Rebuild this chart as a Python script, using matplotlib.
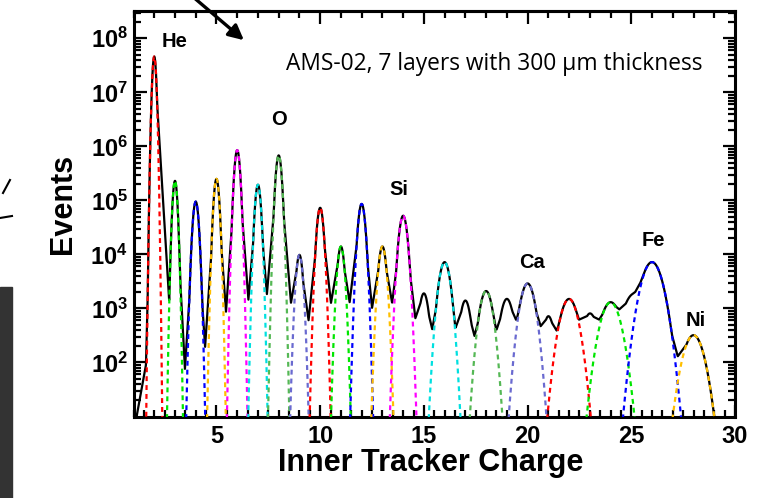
import numpy as np
import matplotlib.pyplot as plt
from matplotlib.ticker import FixedLocator, MultipleLocator, LogLocator, FuncFormatter, NullFormatter
from matplotlib.lines import Line2D
from matplotlib.patches import Rectangle

plt.rcParams['font.family'] = ['Liberation Sans', 'DejaVu Sans']
plt.rcParams['mathtext.fontset'] = 'custom'
plt.rcParams['mathtext.rm'] = 'Liberation Sans'
plt.rcParams['mathtext.bf'] = 'Liberation Sans:bold'

# --- peak parameters (charge, height, sigma) ---
charges = [2, 3, 4, 5, 6, 7, 8, 9, 10, 11, 12, 13, 14, 15,
           16, 17, 18, 19, 20, 21, 22, 23, 24, 25, 26, 28]
peak_events = [4.6e7, 2.3e5, 9.5e4, 2.5e5, 8.5e5, 1.95e5, 6.8e5, 9.8e3, 7.3e4,
               1.4e4, 8.6e4, 1.4e4, 5.2e4, 1.9e3, 7.2e3, 1.4e3, 2.1e3, 1.5e3,
               2.9e3, 700, 1.5e3, 760, 1.3e3, 1.5e3, 7.2e3, 320]
peak_sigma = [0.07, 0.086, 0.107, 0.10, 0.104, 0.105, 0.109, 0.12, 0.12,
              0.125, 0.13, 0.14, 0.155, 0.18, 0.21, 0.2, 0.24, 0.24,
              0.27, 0.2, 0.33, 0.25, 0.37, 0.3, 0.385, 0.38]
# charges that carry a coloured gaussian fit
fitted = [2, 3, 4, 5, 6, 7, 8, 9, 10, 11, 12, 13, 14, 16, 18, 20, 22, 24, 26, 28]
fit_colors = ['#ff0000', '#00e600', '#0000ff', '#ffbf00',
              '#ff00ff', '#00e0e0', '#55b855', '#6a6ad0']

# --- minima of the measured distribution between the peaks ---
valley_x = [1.0, 1.15, 1.6, 2.72, 3.48, 4.45, 5.46, 6.54, 7.43, 8.59, 9.44,
            10.52, 11.42, 12.5, 13.47, 14.59, 15.4, 16.53, 17.44, 18.49,
            19.5, 20.63, 21.4, 22.48, 23.45, 24.42, 27.24, 28.93, 29.3, 30.0]
valley_y = [4, 10, 90, 1.4e3, 76, 190, 870, 1.45e3, 1.8e3, 1.26e3, 600,
            1.26e3, 1.3e3, 1.02e3, 1.26e3, 660, 410, 440, 310, 390,
            550, 470, 390, 620, 620, 960, 130, 10, 3, 1]

labels = ['He', 'O', 'Si', 'Ca', 'Fe', 'Ni']
label_x = [3.0, 8.0, 13.8, 20.2, 26.05, 28.1]
label_y = [8.9e7, 3.2e6, 1.6e5, 7.2e3, 1.8e4, 600]


def gauss(x, h, mu, s):
    return h * np.exp(-0.5 * ((x - mu) / s) ** 2)


fig = plt.figure(figsize=(7.68, 4.98), dpi=100)
ax = fig.add_axes([133.5 / 768, 1 - 416.5 / 498, (735 - 133.5) / 768, (416.5 - 11) / 498])

# measured distribution: gaussian cores, straight (log) flanks down to the minima
xs = np.linspace(1.0, 30.0, 4000)
gsum = np.zeros_like(xs)
for z, h, s in zip(charges, peak_events, peak_sigma):
    gsum += gauss(xs, h, z, s)
env_x = np.array(valley_x + charges, dtype=float)
env_y = np.array(valley_y + peak_events, dtype=float)
order = np.argsort(env_x)
envelope = 10 ** np.interp(xs, env_x[order], np.log10(env_y[order]))
data = np.maximum(gsum, envelope)
ax.plot(xs, data, color='black', lw=1.6, zorder=3)

# gaussian fits
for i, z in enumerate(fitted):
    k = charges.index(z)
    h, s = peak_events[k], peak_sigma[k]
    xf = np.linspace(z - 6 * s, z + 6 * s, 400)
    ax.plot(xf, gauss(xf, h, z, s), color=fit_colors[i % 8], lw=1.6,
            linestyle=(0, (2.2, 1.8)), zorder=4)

ax.set_yscale('log')
ax.set_xlim(1, 30)
ax.set_ylim(10, 3.2e8)

ax.xaxis.set_major_locator(FixedLocator([5, 10, 15, 20, 25, 30]))
ax.xaxis.set_minor_locator(MultipleLocator(0.5))
ax.yaxis.set_major_locator(FixedLocator([1e2, 1e3, 1e4, 1e5, 1e6, 1e7, 1e8]))
ax.yaxis.set_minor_locator(LogLocator(base=10, subs=np.arange(2, 10)))
ax.yaxis.set_minor_formatter(NullFormatter())
ax.yaxis.set_major_formatter(FuncFormatter(lambda v, p: r'$\mathbf{10^{%d}}$' % round(np.log10(v))))

ax.tick_params(which='both', direction='in', width=1.6, right=True, top=False,
               labelsize=17)
ax.tick_params(which='major', length=9)
ax.tick_params(which='minor', length=5)
ax.tick_params(axis='x', pad=6)
ax.tick_params(axis='y', pad=4)
for t in ax.get_xticklabels():
    t.set_fontweight('bold')

top = ax.secondary_xaxis('top')
top.xaxis.set_major_locator(FixedLocator([5, 10, 15, 20, 25]))
top.xaxis.set_minor_locator(MultipleLocator(1))
top.tick_params(which='both', direction='in', width=1.6, labeltop=False)
top.tick_params(which='major', length=9)
top.tick_params(which='minor', length=5)
top.spines['top'].set_linewidth(2.2)

for sp in ax.spines.values():
    sp.set_linewidth(2.2)

for lab, lx, ly in zip(labels, label_x, label_y):
    ax.text(lx, ly, lab, ha='center', va='center', fontsize=14.5, fontweight='bold')

fig.text(702 / 768, 1 - 70 / 498, 'AMS-02, 7 layers with 300 \u00b5m thickness',
         ha='right', va='baseline', fontsize=16.4, family=['Open Sans', 'DejaVu Sans'])

fig.text(63 / 768, 1 - 204 / 498, 'Events', rotation=90, ha='center', va='center',
         fontsize=22, fontweight='bold')
fig.text(431 / 768, 1 - 463 / 498, 'Inner Tracker Charge', ha='center', va='center',
         fontsize=22, fontweight='bold')

# slide leftovers: arrow, dark panel and stray strokes
ax.annotate('', xy=(246, 456), xycoords='figure pixels', xytext=(192, 502),
            textcoords='figure pixels',
            arrowprops=dict(arrowstyle='-|>,head_length=0.9,head_width=0.45',
                            color='black', lw=2.4), annotation_clip=False)
fig.patches.append(Rectangle((0, 0), 12 / 768, (498 - 287) / 498, color='#333333',
                             transform=fig.transFigure, figure=fig))
fig.lines.append(Line2D([3 / 768, 10 / 768], [1 - 193 / 498, 1 - 180 / 498],
                        color='black', lw=1.5, transform=fig.transFigure, figure=fig))
fig.lines.append(Line2D([0, 12 / 768], [1 - 218 / 498, 1 - 216 / 498],
                        color='black', lw=1.5, transform=fig.transFigure, figure=fig))

fig.savefig('out.png', dpi=100)
